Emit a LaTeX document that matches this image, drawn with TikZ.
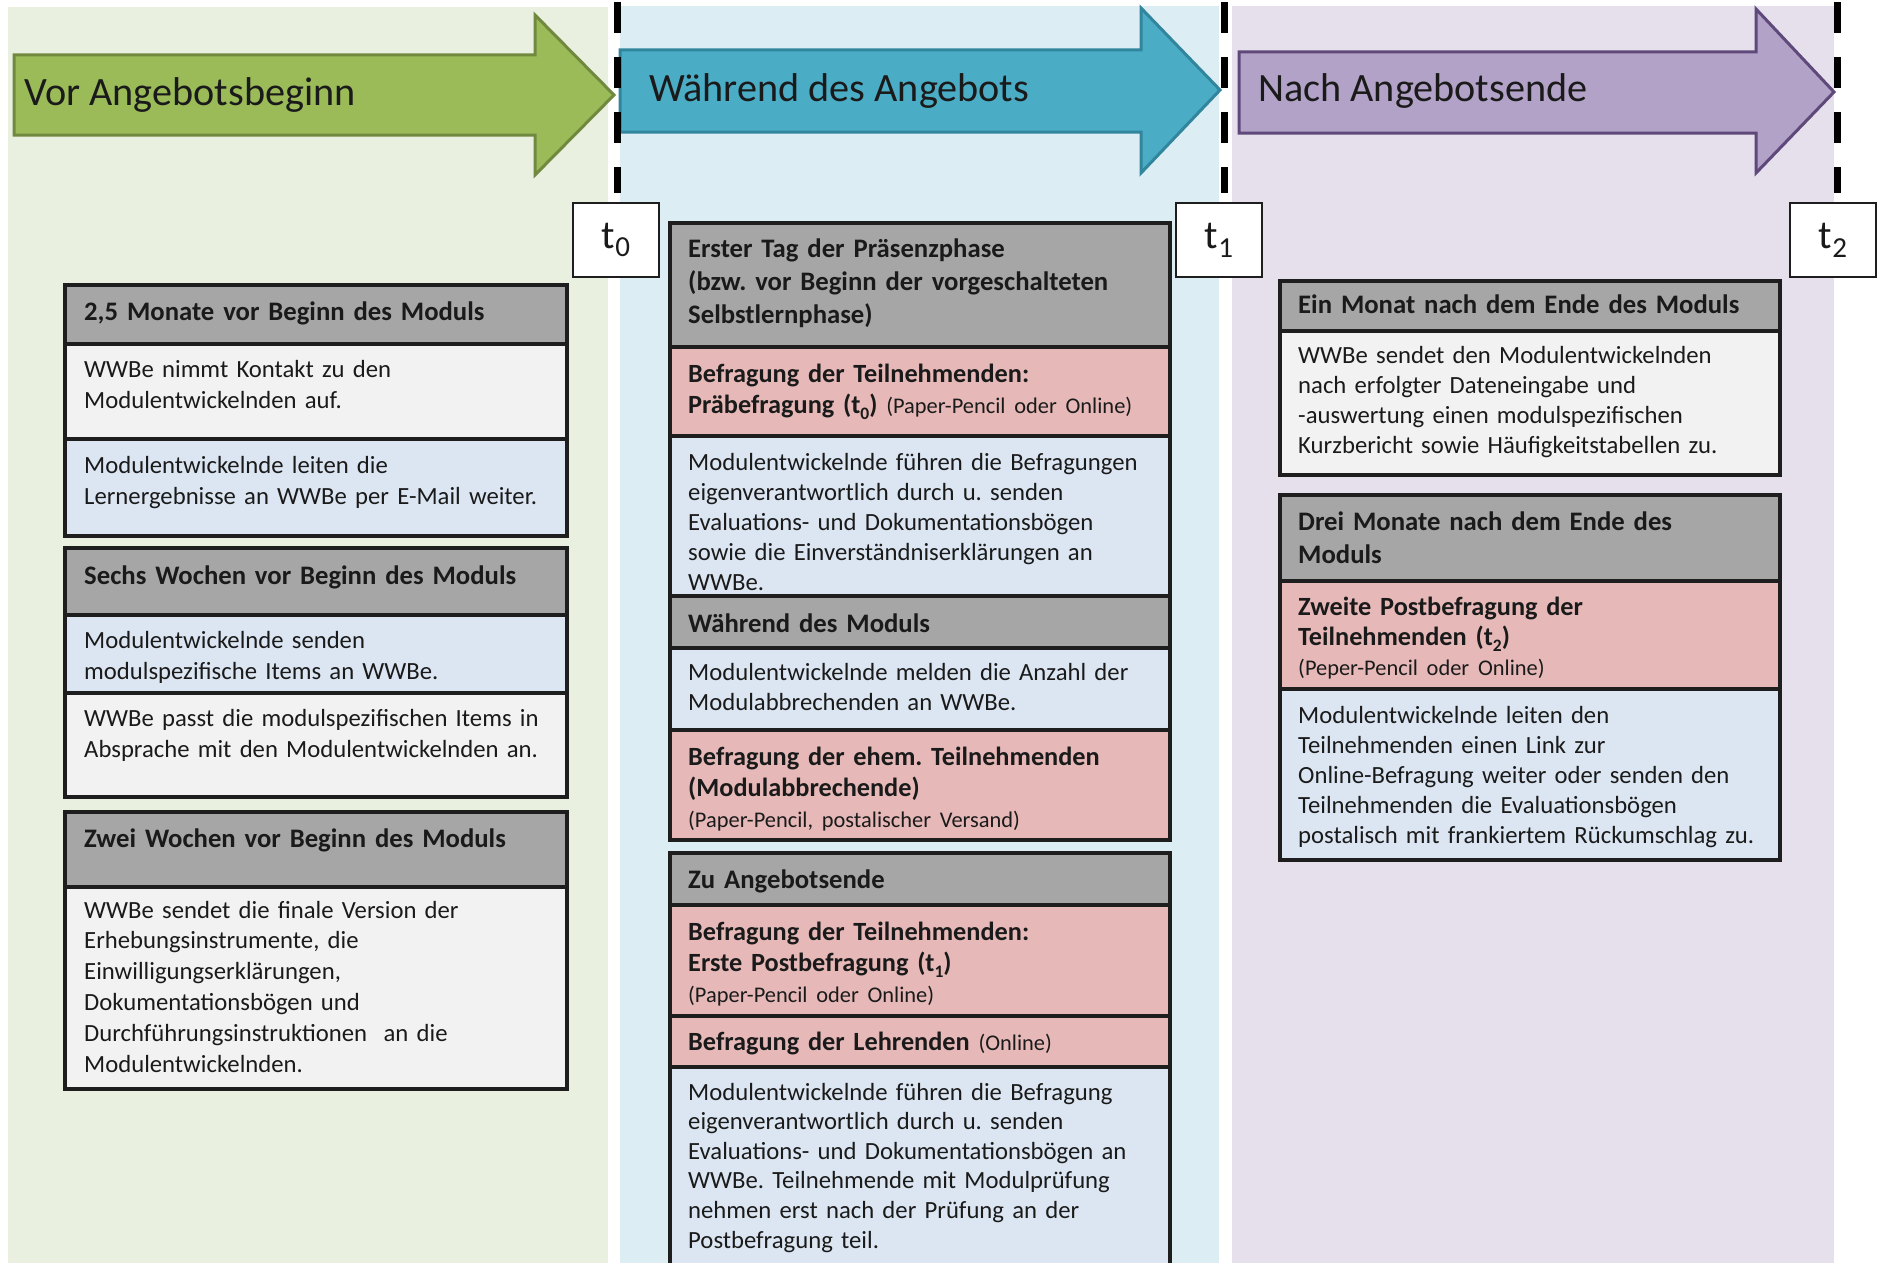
\documentclass[tikz,border=0pt]{standalone}
\usepackage{fontspec}
\setmainfont{Carlito}
\frenchspacing
\definecolor{bggreen}{HTML}{EAF0E0}
\definecolor{bgblue}{HTML}{DCEEF3}
\definecolor{bgpurple}{HTML}{E5E0EC}
\definecolor{arrgreen}{HTML}{9BBB59}
\definecolor{arrgreenD}{HTML}{71893F}
\definecolor{arrblue}{HTML}{4BACC6}
\definecolor{arrblueD}{HTML}{31859C}
\definecolor{arrpurple}{HTML}{B2A2C7}
\definecolor{arrpurpleD}{HTML}{5F497A}
\definecolor{hdrgray}{HTML}{A6A6A6}
\definecolor{rowred}{HTML}{E6B9B8}
\definecolor{rowblue}{HTML}{DCE6F2}
\definecolor{rowwhite}{HTML}{F2F2F2}
\definecolor{ink}{HTML}{1A1A1A}
\definecolor{framec}{HTML}{1E1E1E}
\newcommand\ssub[1]{\raisebox{-0.25em}{\fontsize{17.5}{17.5}\selectfont #1}}
\newcommand\tsub[1]{\raisebox{-0.22em}{\fontsize{29}{29}\selectfont #1}}
\newcommand\smalltxt[1]{{\mdseries\fontsize{22.4}{25}\selectfont #1}}
\tikzset{
  frame/.style={draw=framec, line width=3.5pt},
  dashline/.style={line width=7pt, black, dash pattern=on 31pt off 24pt},
  arrowtxt/.style={anchor=base west, inner sep=0pt, text=ink, font=\fontsize{40.2}{46}\selectfont},
  hdr/.style={anchor=base west, inner sep=0pt, text width=480pt, align=left, text=ink, font=\bfseries\fontsize{26.7}{33}\selectfont},
  redtxt/.style={anchor=base west, inner sep=0pt, text width=480pt, align=left, text=ink, font=\bfseries\fontsize{26.3}{#1}\selectfont},
  redtxt/.default=31,
  bodytxt/.style={anchor=base west, inner sep=0pt, text width=480pt, align=left, text=ink, font=\fontsize{24.7}{#1}\selectfont},
  bodytxt/.default=30,
  tbox/.style={draw=framec, line width=1.5pt, fill=white, minimum width=86pt, minimum height=74pt, inner sep=0pt, text=ink, font=\fontsize{40}{40}\selectfont}
}
\begin{document}
\begin{tikzpicture}[x=1pt,y=-1pt]
\useasboundingbox (0,0) rectangle (1879,1263);
\fill[white] (0,0) rectangle (1879,1263);
% backgrounds
\fill[bggreen] (8,7) rectangle (608,1263);
\fill[bgblue] (620,6) rectangle (1219,1263);
\fill[bgpurple] (1232,6) rectangle (1834,1263);
% arrows
\draw[arrgreenD, line width=3pt, fill=arrgreen, line join=miter]
  (14,55) -- (535,55) -- (535,15) -- (614,95) -- (535,175) -- (535,135) -- (14,135) -- cycle;
\draw[arrblueD, line width=3pt, fill=arrblue, line join=miter]
  (620,50) -- (1141,50) -- (1141,8) -- (1220,90) -- (1141,173) -- (1141,132) -- (620,132) -- cycle;
\draw[arrpurpleD, line width=3pt, fill=arrpurple, line join=miter]
  (1239,52) -- (1756,52) -- (1756,9) -- (1834,92) -- (1756,173) -- (1756,133) -- (1239,133) -- cycle;
\node[arrowtxt] (a1) at (24,105) {Vor Angebotsbeginn};
\node[arrowtxt] (a2) at (649,101) {Während des Angebots};
\node[arrowtxt] (a3) at (1258,101) {Nach Angebotsende};
% dashed lines
\draw[dashline] (617,2) -- (617,193);
\draw[dashline] (1224,2) -- (1224,193);
\draw[dashline] (1837,2) -- (1837,193);
% t boxes
\node[tbox] (t0) at (616,240) {t\tsub{0}};
\node[tbox] (t1) at (1219,240) {t\tsub{1}};
\node[tbox] (t2) at (1833,240) {t\tsub{2}};

% ---------- left column ----------
\fill[hdrgray] (65,285) rectangle (567,344);
\fill[rowwhite] (65,344) rectangle (567,439);
\fill[rowblue] (65,439) rectangle (567,536);
\draw[frame] (65,344) -- (567,344) (65,439) -- (567,439);
\draw[frame] (65,285) rectangle (567,536);
\node[hdr] (l1h) at (84,320) {2,5 Monate vor Beginn des Moduls};
\node[bodytxt=31] (l1a) at (84,377) {WWBe nimmt Kontakt zu den\\Modulentwickelnden auf.};
\node[bodytxt=31] (l1b) at (84,473) {Modulentwickelnde leiten die\\Lernergebnisse an WWBe per E-Mail weiter.};

\fill[hdrgray] (65,548) rectangle (567,615);
\fill[rowblue] (65,615) rectangle (567,693);
\fill[rowwhite] (65,693) rectangle (567,797);
\draw[frame] (65,615) -- (567,615) (65,693) -- (567,693);
\draw[frame] (65,548) rectangle (567,797);
\node[hdr] (l2h) at (84,584) {Sechs Wochen vor Beginn des Moduls};
\node[bodytxt=31] (l2a) at (84,648) {Modulentwickelnde senden\\modulspezifische Items an WWBe.};
\node[bodytxt=31] (l2b) at (84,726) {WWBe passt die modulspezifischen Items in\\Absprache mit den Modulentwickelnden an.};

\fill[hdrgray] (65,812) rectangle (567,887);
\fill[rowwhite] (65,887) rectangle (567,1089);
\draw[frame] (65,887) -- (567,887);
\draw[frame] (65,812) rectangle (567,1089);
\node[hdr] (l3h) at (84,847) {Zwei Wochen vor Beginn des Moduls};
\node[bodytxt=30.8] (l3a) at (84,918) {WWBe sendet die finale Version der\\Erhebungsinstrumente, die\\Einwilligungserklärungen,\\Dokumentationsbögen und\\Durchführungsinstruktionen\ \ an die\\Modulentwickelnden.};

% ---------- middle column ----------
\fill[hdrgray] (670,223) rectangle (1170,347);
\fill[rowred] (670,347) rectangle (1170,436);
\fill[rowblue] (670,436) rectangle (1170,596);
\fill[hdrgray] (670,596) rectangle (1170,648);
\fill[rowblue] (670,648) rectangle (1170,730);
\fill[rowred] (670,730) rectangle (1170,840);
\draw[frame] (670,347) -- (1170,347) (670,436) -- (1170,436) (670,596) -- (1170,596)
  (670,648) -- (1170,648) (670,730) -- (1170,730);
\draw[frame] (670,223) rectangle (1170,840);
\node[hdr] (m1h) at (688,257) {Erster Tag der Präsenzphase\\(bzw. vor Beginn der vorgeschalteten\\Selbstlernphase)};
\node[redtxt] (m1r) at (688,382) {Befragung der Teilnehmenden:\\Präbefragung (t\ssub{0}) \smalltxt{(Paper-Pencil oder Online)}};
\node[bodytxt] (m1b) at (688,470) {Modulentwickelnde führen die Befragungen\\eigenverantwortlich durch u. senden\\Evaluations- und Dokumentationsbögen\\sowie die Einverständniserklärungen an\\WWBe.};
\node[hdr] (m2h) at (688,632) {Während des Moduls};
\node[bodytxt] (m2b) at (688,680) {Modulentwickelnde melden die Anzahl der\\Modulabbrechenden an WWBe.};
\node[redtxt] (m2r) at (688,765) {Befragung der ehem. Teilnehmenden\\(Modulabbrechende)\\\smalltxt{(Paper-Pencil, postalischer Versand)}};

\fill[hdrgray] (670,853) rectangle (1170,905);
\fill[rowred] (670,905) rectangle (1170,1067);
\fill[rowblue] (670,1067) rectangle (1170,1275);
\draw[frame] (670,905) -- (1170,905) (670,1016) -- (1170,1016) (670,1067) -- (1170,1067);
\draw[frame] (670,1275) -- (670,853) -- (1170,853) -- (1170,1275);
\node[hdr] (m3h) at (688,888) {Zu Angebotsende};
\node[redtxt] (m3r) at (688,940) {Befragung der Teilnehmenden:\\Erste Postbefragung (t\ssub{1})\\\smalltxt{(Paper-Pencil oder Online)}};
\node[redtxt] (m3s) at (688,1050) {Befragung der Lehrenden \smalltxt{(Online)}};
\node[bodytxt=29.6] (m3b) at (688,1100) {Modulentwickelnde führen die Befragung\\eigenverantwortlich durch u. senden\\Evaluations- und Dokumentationsbögen an\\WWBe. Teilnehmende mit Modulprüfung\\nehmen erst nach der Prüfung an der\\Postbefragung teil.};

% ---------- right column ----------
\fill[hdrgray] (1280,281) rectangle (1780,331);
\fill[rowwhite] (1280,331) rectangle (1780,475);
\draw[frame] (1280,331) -- (1780,331);
\draw[frame] (1280,281) rectangle (1780,475);
\node[hdr] (r1h) at (1298,313) {Ein Monat nach dem Ende des Moduls};
\node[bodytxt] (r1b) at (1298,363) {WWBe sendet den Modulentwickelnden\\nach erfolgter Dateneingabe und\\-auswertung einen modulspezifischen\\Kurzbericht sowie Häufigkeitstabellen zu.};

\fill[hdrgray] (1280,495) rectangle (1780,581);
\fill[rowred] (1280,581) rectangle (1780,689);
\fill[rowblue] (1280,689) rectangle (1780,860);
\draw[frame] (1280,581) -- (1780,581) (1280,689) -- (1780,689);
\draw[frame] (1280,495) rectangle (1780,860);
\node[hdr] (r2h) at (1298,530) {Drei Monate nach dem Ende des\\Moduls};
\node[redtxt=30] (r2r) at (1298,615) {Zweite Postbefragung der\\Teilnehmenden (t\ssub{2})\\\smalltxt{(Peper-Pencil oder Online)}};
\node[bodytxt] (r2b) at (1298,723) {Modulentwickelnde leiten den\\Teilnehmenden einen Link zur\\Online-Befragung weiter oder senden den\\Teilnehmenden die Evaluationsbögen\\postalisch mit frankiertem Rückumschlag zu.};
\end{tikzpicture}
\end{document}
